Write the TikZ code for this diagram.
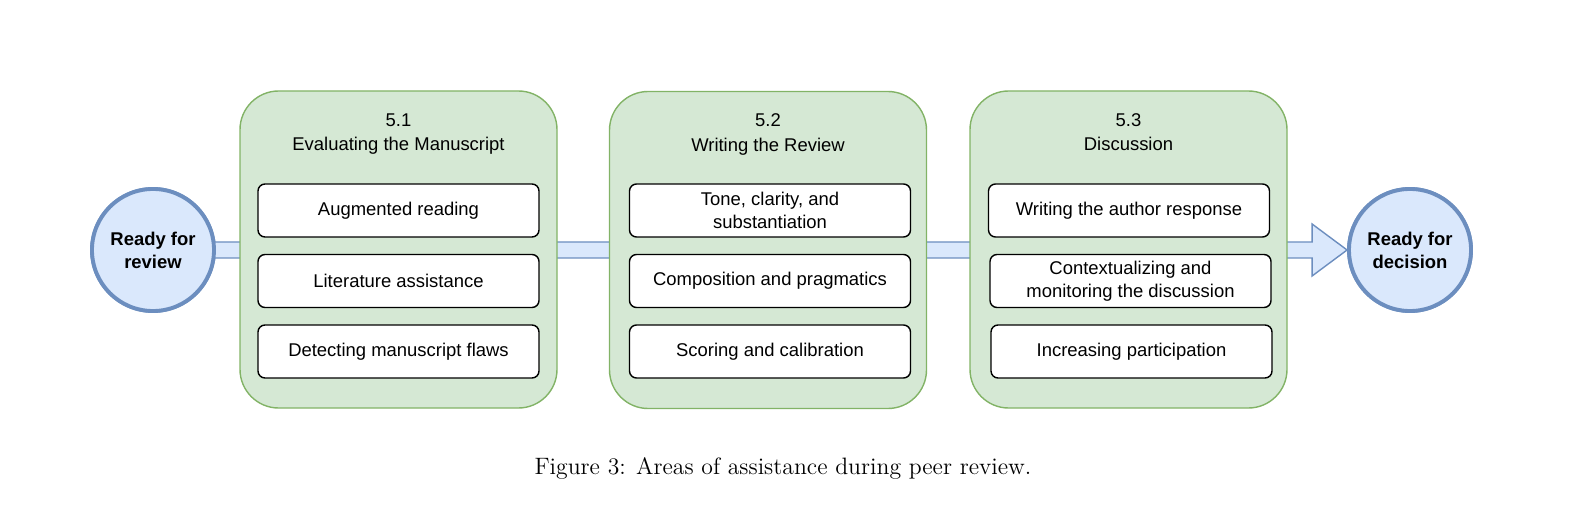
\documentclass[tikz,border=0pt]{standalone}
\usepackage{fontspec}
\setmainfont{Latin Modern Roman}
\newfontfamily\arialfont{Liberation Sans}
\usetikzlibrary{positioning, calc}
\definecolor{blueFill}{HTML}{DAE8FC}
\definecolor{blueLine}{HTML}{6C8EBF}
\definecolor{greenFill}{HTML}{D5E8D4}
\definecolor{greenLine}{HTML}{82B366}
\tikzset{
  state/.style={circle, draw=blueLine, fill=blueFill, line width=2.2pt, minimum size=122*0.02cm,
    inner sep=0pt, align=center, font=\arialfont\bfseries\fontsize{10.5}{13}\selectfont},
  area/.style={draw=greenLine, fill=greenFill, line width=0.8pt, rounded corners=22pt,
    minimum width=317*0.02cm, minimum height=317*0.02cm},
  item/.style={draw=black, fill=white, line width=0.8pt, rounded corners=4pt,
    minimum width=281*0.02cm, minimum height=53*0.02cm, inner sep=1pt, align=center,
    font=\arialfont\fontsize{10.5}{13}\selectfont},
  heading/.style={align=center, font=\arialfont\fontsize{10.5}{14}\selectfont},
}
\begin{document}
\begin{tikzpicture}[x=0.02cm, y=-0.02cm]
    \useasboundingbox (0,0) rectangle (1586,520);

    \node[state] (rev) at (153,250) {Ready for\\review};
    \node[state] (dec) at (1410,250) {Ready for\\decision};

    % flow band behind everything
    \begin{scope}[on background layer/.style={}]
    \coordinate (bandL) at (rev.center);
    \coordinate (headR) at (dec.west);
    \draw[blueLine, fill=blueFill, line width=0.8pt]
      ($(bandL)+(0,-8)$) -- ($(headR)+(-35,-8)$) -- ($(headR)+(-35,-26)$) -- (headR)
      -- ($(headR)+(-35,26)$) -- ($(headR)+(-35,8)$) -- ($(bandL)+(0,8)$) -- cycle;
    \end{scope}
    \node[state] at (rev) {Ready for\\review};
    \node[state] at (dec) {Ready for\\decision};

    \node[area] (eval) at (398.5,249.5) {};
    \node[area] (write) at (768,250) {};
    \node[area] (disc) at (1128.5,249.5) {};

    \node[heading, below=17*0.02cm of eval.north] {5.1\\Evaluating the Manuscript};
    \node[heading, below=17*0.02cm of write.north] {5.2\\Writing the Review};
    \node[heading, below=17*0.02cm of disc.north] {5.3\\Discussion};

    \node[item] (e1) at (398.5,210.5) {Augmented reading};
    \node[item] (e2) at (398.5,281) {Literature assistance};
    \node[item] (e3) at (398.5,351.5) {Detecting manuscript flaws};

    \node[item] (w1) at (770,210.5) {Tone, clarity, and\\substantiation};
    \node[item] (w2) at (770,281) {Composition and pragmatics};
    \node[item] (w3) at (770,351.5) {Scoring and calibration};

    \node[item] (d1) at (1129,210.5) {Writing the author response};
    \node[item] (d2) at (1130.5,281) {Contextualizing and\\monitoring the discussion};
    \node[item] (d3) at (1131.5,351.5) {Increasing participation};

    \node (cap) at (783,468) {\fontsize{13.5}{16}\selectfont Figure 3: Areas of assistance during peer review.};
\end{tikzpicture}
\end{document}
